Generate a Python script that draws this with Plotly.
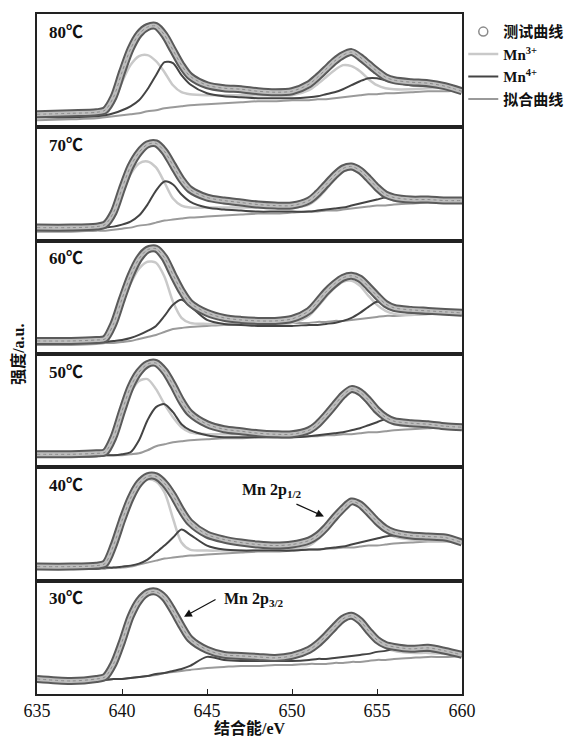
import plotly.graph_objects as go
from plotly.subplots import make_subplots

# Binding energy grid (eV)
X = [635, 637, 638.5, 639, 639.5, 640, 640.5, 641, 641.5, 642, 642.5, 643, 643.5, 644, 645,
     646, 647, 648, 649, 650, 651, 651.5, 652, 652.5, 653, 653.5, 654, 654.5, 655, 655.5,
     656, 657, 658, 659, 660]

LABELS = ["80℃", "70℃", "60℃", "50℃", "40℃", "30℃"]

# 80 ℃
MEAS_80 = [13, 14, 15, 17, 30, 55, 78, 93, 100, 101, 92, 77, 62, 51, 42, 39, 38, 36, 35, 36, 43, 50, 58, 66, 72, 75, 70, 63, 56, 50, 47, 45, 44, 41, 36]
MN3_80 = [12, 12, 13, 15, 25, 45, 62, 71, 72, 66, 55, 42, 35, 33, 32, 32, 32, 32, 32, 32, 37, 43, 50, 57, 62, 61, 56, 48, 42, 39, 38, 38, 39, 39, 36]
MN4_80 = [10, 10, 11, 12, 14, 17, 21, 27, 38, 52, 65, 64, 52, 43, 34, 31, 30, 29, 29, 29, 30, 31, 33, 35, 38, 42, 46, 49, 49, 47, 45, 42, 41, 40, 37]
BG_80 = [7, 8, 9, 10, 11, 12, 13, 14, 16, 17, 19, 20, 21, 22, 23, 24, 25, 26, 26, 27, 27, 28, 28, 29, 30, 31, 32, 33, 33, 34, 34, 35, 36, 36, 37]

# 70 ℃
MEAS_70 = [13, 13, 14, 16, 28, 52, 74, 88, 96, 97, 89, 75, 61, 51, 43, 40, 38, 36, 35, 35, 40, 47, 56, 65, 72, 74, 70, 62, 53, 46, 43, 41, 41, 40, 40]
MN3_70 = [12, 12, 13, 15, 25, 46, 66, 77, 79, 73, 58, 42, 35, 33, 33, 33, 33, 33, 33, 33, 36, 42, 51, 61, 69, 71, 67, 59, 50, 44, 40, 39, 39, 39, 39]
MN4_70 = [11, 11, 12, 13, 14, 16, 19, 25, 36, 50, 59, 56, 46, 39, 33, 31, 30, 29, 29, 29, 29, 30, 31, 32, 33, 35, 37, 39, 41, 43, 42, 41, 40, 40, 40]
BG_70 = [9, 9, 10, 10, 11, 12, 13, 15, 16, 18, 20, 21, 22, 23, 24, 25, 26, 27, 27, 28, 29, 29, 30, 30, 31, 32, 33, 34, 35, 35, 36, 37, 38, 38, 39]

# 60 ℃
MEAS_60 = [13, 13, 14, 15, 30, 55, 78, 95, 104, 105, 96, 79, 63, 51, 41, 36, 34, 33, 33, 35, 43, 52, 62, 70, 76, 78, 75, 67, 58, 50, 46, 44, 43, 42, 41]
MN3_60 = [12, 12, 13, 14, 27, 50, 70, 85, 92, 91, 77, 52, 36, 31, 30, 30, 30, 30, 30, 31, 38, 47, 57, 66, 72, 73, 68, 58, 49, 43, 40, 39, 40, 40, 40]
MN4_60 = [11, 11, 12, 12, 13, 14, 16, 19, 23, 28, 38, 49, 54, 48, 34, 30, 29, 28, 28, 28, 29, 29, 30, 31, 33, 36, 41, 47, 52, 49, 44, 41, 40, 40, 40]
BG_60 = [9, 9, 10, 11, 11, 12, 13, 15, 17, 19, 22, 25, 26, 27, 28, 29, 29, 30, 30, 31, 31, 32, 32, 33, 33, 34, 35, 36, 37, 38, 38, 39, 40, 40, 40]

# 50 ℃
MEAS_50 = [13, 13, 14, 15, 30, 56, 80, 95, 103, 104, 96, 82, 66, 54, 43, 38, 36, 34, 33, 33, 37, 43, 52, 62, 72, 78, 75, 67, 57, 50, 46, 44, 43, 41, 40]
MN3_50 = [12, 12, 13, 14, 27, 52, 74, 86, 88, 78, 63, 50, 40, 35, 33, 33, 33, 32, 32, 32, 35, 41, 50, 60, 70, 75, 72, 63, 53, 47, 43, 41, 41, 40, 39]
MN4_50 = [11, 11, 11, 12, 12, 13, 15, 27, 47, 60, 63, 55, 43, 37, 32, 30, 30, 30, 30, 30, 31, 32, 33, 34, 35, 37, 39, 42, 45, 48, 47, 43, 41, 40, 40]
BG_50 = [11, 11, 11, 12, 12, 12, 13, 14, 17, 21, 23, 25, 26, 27, 28, 29, 29, 30, 30, 30, 31, 31, 32, 32, 33, 33, 34, 35, 35, 36, 37, 38, 39, 40, 40]

# 40 ℃
MEAS_40 = [14, 14, 15, 17, 35, 60, 82, 97, 104, 104, 97, 85, 70, 58, 46, 41, 38, 36, 35, 36, 40, 45, 53, 63, 72, 79, 76, 68, 59, 52, 48, 45, 44, 43, 38]
MN3_40 = [13, 13, 14, 16, 33, 58, 80, 95, 101, 99, 88, 62, 38, 31, 30, 30, 30, 30, 30, 31, 35, 41, 50, 60, 70, 77, 74, 66, 56, 49, 44, 41, 40, 40, 38]
MN4_40 = [12, 12, 12, 13, 13, 14, 15, 17, 21, 28, 35, 43, 51, 46, 35, 31, 30, 30, 30, 30, 31, 31, 32, 33, 34, 36, 38, 40, 42, 44, 45, 45, 44, 43, 39]
BG_40 = [12, 12, 12, 12, 13, 13, 14, 16, 18, 20, 22, 23, 24, 25, 26, 27, 28, 29, 29, 30, 31, 31, 32, 32, 33, 33, 34, 35, 35, 36, 37, 38, 39, 39, 40]

# 30 ℃
MEAS_30 = [15, 13, 15, 17, 30, 52, 77, 93, 101, 102, 96, 83, 68, 55, 44, 39, 38, 37, 36, 38, 44, 50, 58, 67, 75, 78, 73, 63, 54, 49, 47, 45, 46, 43, 39]
MN3_30 = [14, 13, 14, 16, 28, 50, 75, 91, 99, 100, 94, 80, 65, 52, 42, 38, 37, 36, 35, 37, 42, 48, 56, 65, 73, 76, 71, 61, 52, 46, 43, 41, 41, 40, 39]
MN4_30 = [14, 14, 14, 14, 15, 15, 16, 17, 18, 20, 21, 23, 25, 28, 37, 34, 33, 33, 33, 33, 34, 35, 35, 36, 37, 38, 39, 40, 42, 43, 45, 44, 43, 42, 40]
BG_30 = [14, 14, 14, 14, 15, 15, 16, 17, 18, 19, 21, 22, 23, 24, 26, 27, 28, 28, 29, 29, 30, 30, 30, 31, 31, 32, 32, 33, 34, 34, 35, 36, 37, 37, 38]

X_TICKS = [635, 640, 645, 650, 655, 660]

PANELS = [
    (MEAS_80, MN3_80, MN4_80, BG_80),
    (MEAS_70, MN3_70, MN4_70, BG_70),
    (MEAS_60, MN3_60, MN4_60, BG_60),
    (MEAS_50, MN3_50, MN4_50, BG_50),
    (MEAS_40, MN3_40, MN4_40, BG_40),
    (MEAS_30, MN3_30, MN4_30, BG_30),
]

SERIF = "Liberation Serif, Noto Sans CJK SC, serif"
C_MN3 = "#c9c9c9"
C_MN4 = "#444444"
C_BG = "#9a9a9a"
C_BAND = "#5a5a5a"
C_BAND_IN = "#bdbdbd"

fig = make_subplots(rows=6, cols=1, shared_xaxes=True, vertical_spacing=0)

# legend-only entry for the measured points
fig.add_trace(go.Scatter(x=[None], y=[None], mode="markers", name="<b>测试曲线</b>",
                         marker=dict(symbol="circle-open", size=9, color="#8a8a8a", line=dict(width=1.5)),
                         legendrank=1), row=1, col=1)

for i, (meas, mn3, mn4, bg) in enumerate(PANELS, start=1):
    first = i == 1
    fig.add_trace(go.Scatter(x=X, y=bg, mode="lines", name="<b>拟合曲线</b>", showlegend=first, legendrank=4,
                             line=dict(color=C_BG, width=2, shape="spline", smoothing=0.8)), row=i, col=1)
    fig.add_trace(go.Scatter(x=X, y=mn3, mode="lines", name="<b>Mn<sup>3+</sup></b>", showlegend=first, legendrank=2,
                             line=dict(color=C_MN3, width=2.5, shape="spline", smoothing=0.8)), row=i, col=1)
    fig.add_trace(go.Scatter(x=X, y=mn4, mode="lines", name="<b>Mn<sup>4+</sup></b>", showlegend=first, legendrank=3,
                             line=dict(color=C_MN4, width=2, shape="spline", smoothing=0.8)), row=i, col=1)
    fig.add_trace(go.Scatter(x=X, y=meas, mode="lines", showlegend=False,
                             line=dict(color=C_BAND, width=8, shape="spline", smoothing=0.8)), row=i, col=1)
    fig.add_trace(go.Scatter(x=X, y=meas, mode="lines", showlegend=False,
                             line=dict(color=C_BAND_IN, width=4, shape="spline", smoothing=0.8)), row=i, col=1)
    fig.add_trace(go.Scatter(x=X, y=meas, mode="lines", showlegend=False,
                             line=dict(color="#8c8c8c", width=1, dash="dot", shape="spline", smoothing=0.8)), row=i, col=1)

    fig.update_yaxes(range=[0, 113], showticklabels=False, ticks="", showgrid=False, zeroline=False,
                     showline=True, mirror=True, linecolor="#222", linewidth=1.5, row=i, col=1)
    last = i == 6
    fig.update_xaxes(range=[635, 660], showgrid=False, zeroline=False, showline=True, mirror=True,
                     linecolor="#222", linewidth=1.5,
                     ticks="inside" if last else "", ticklen=5, tickcolor="#222",
                     tickvals=X_TICKS, showticklabels=last,
                     tickfont=dict(family=SERIF, size=18, color="#111"), row=i, col=1)

    yref = "y" if i == 1 else f"y{i}"
    xref = "x" if i == 1 else f"x{i}"
    fig.add_annotation(text=f"<b>{LABELS[i-1]}</b>", xref=f"{xref} domain", yref=f"{yref} domain",
                       x=0.024, y=0.84, xanchor="left", yanchor="middle", showarrow=False,
                       font=dict(family=SERIF, size=17, color="#111"))

# Peak annotations
fig.add_annotation(text="<b>Mn 2p<sub>1/2</sub></b>", xref="x5", yref="y5", x=646.94, y=90,
                   xanchor="left", yanchor="middle", showarrow=False,
                   font=dict(family=SERIF, size=16, color="#111"))
fig.add_annotation(text="", xref="x5", yref="y5", x=651.88, y=64, ax=-29, ay=-13,
                   showarrow=True, arrowhead=2, arrowsize=1.3, arrowwidth=1.2, arrowcolor="#111")
fig.add_annotation(text="<b>Mn 2p<sub>3/2</sub></b>", xref="x6", yref="y6", x=645.88, y=94,
                   xanchor="left", yanchor="middle", showarrow=False,
                   font=dict(family=SERIF, size=16, color="#111"))
fig.add_annotation(text="", xref="x6", yref="y6", x=643.65, y=77, ax=33, ay=-18,
                   showarrow=True, arrowhead=2, arrowsize=1.3, arrowwidth=1.2, arrowcolor="#111")

# Axis titles
fig.add_annotation(text="<b>结合能/eV</b>", xref="paper", yref="paper", x=0.5, y=-0.05,
                   xanchor="center", yanchor="middle", showarrow=False,
                   font=dict(family=SERIF, size=16, color="#111"))
fig.add_annotation(text="<b>强度/a.u.</b>", xref="paper", yref="paper", x=-0.045, y=0.5,
                   xanchor="center", yanchor="middle", textangle=-90, showarrow=False,
                   font=dict(family=SERIF, size=16, color="#111"))

# page body adds an 8px offset, so the figure is 8px smaller and margins are reduced accordingly
fig.update_layout(
    width=567, height=730,
    margin=dict(l=29, r=113, t=6, b=44),
    paper_bgcolor="white", plot_bgcolor="white",
    legend=dict(x=1.003, y=0.998, xanchor="left", yanchor="top", traceorder="normal",
                font=dict(family=SERIF, size=15, color="#111"), bgcolor="rgba(0,0,0,0)",
                tracegroupgap=0, itemwidth=30),
)

fig.write_html("out.html")
